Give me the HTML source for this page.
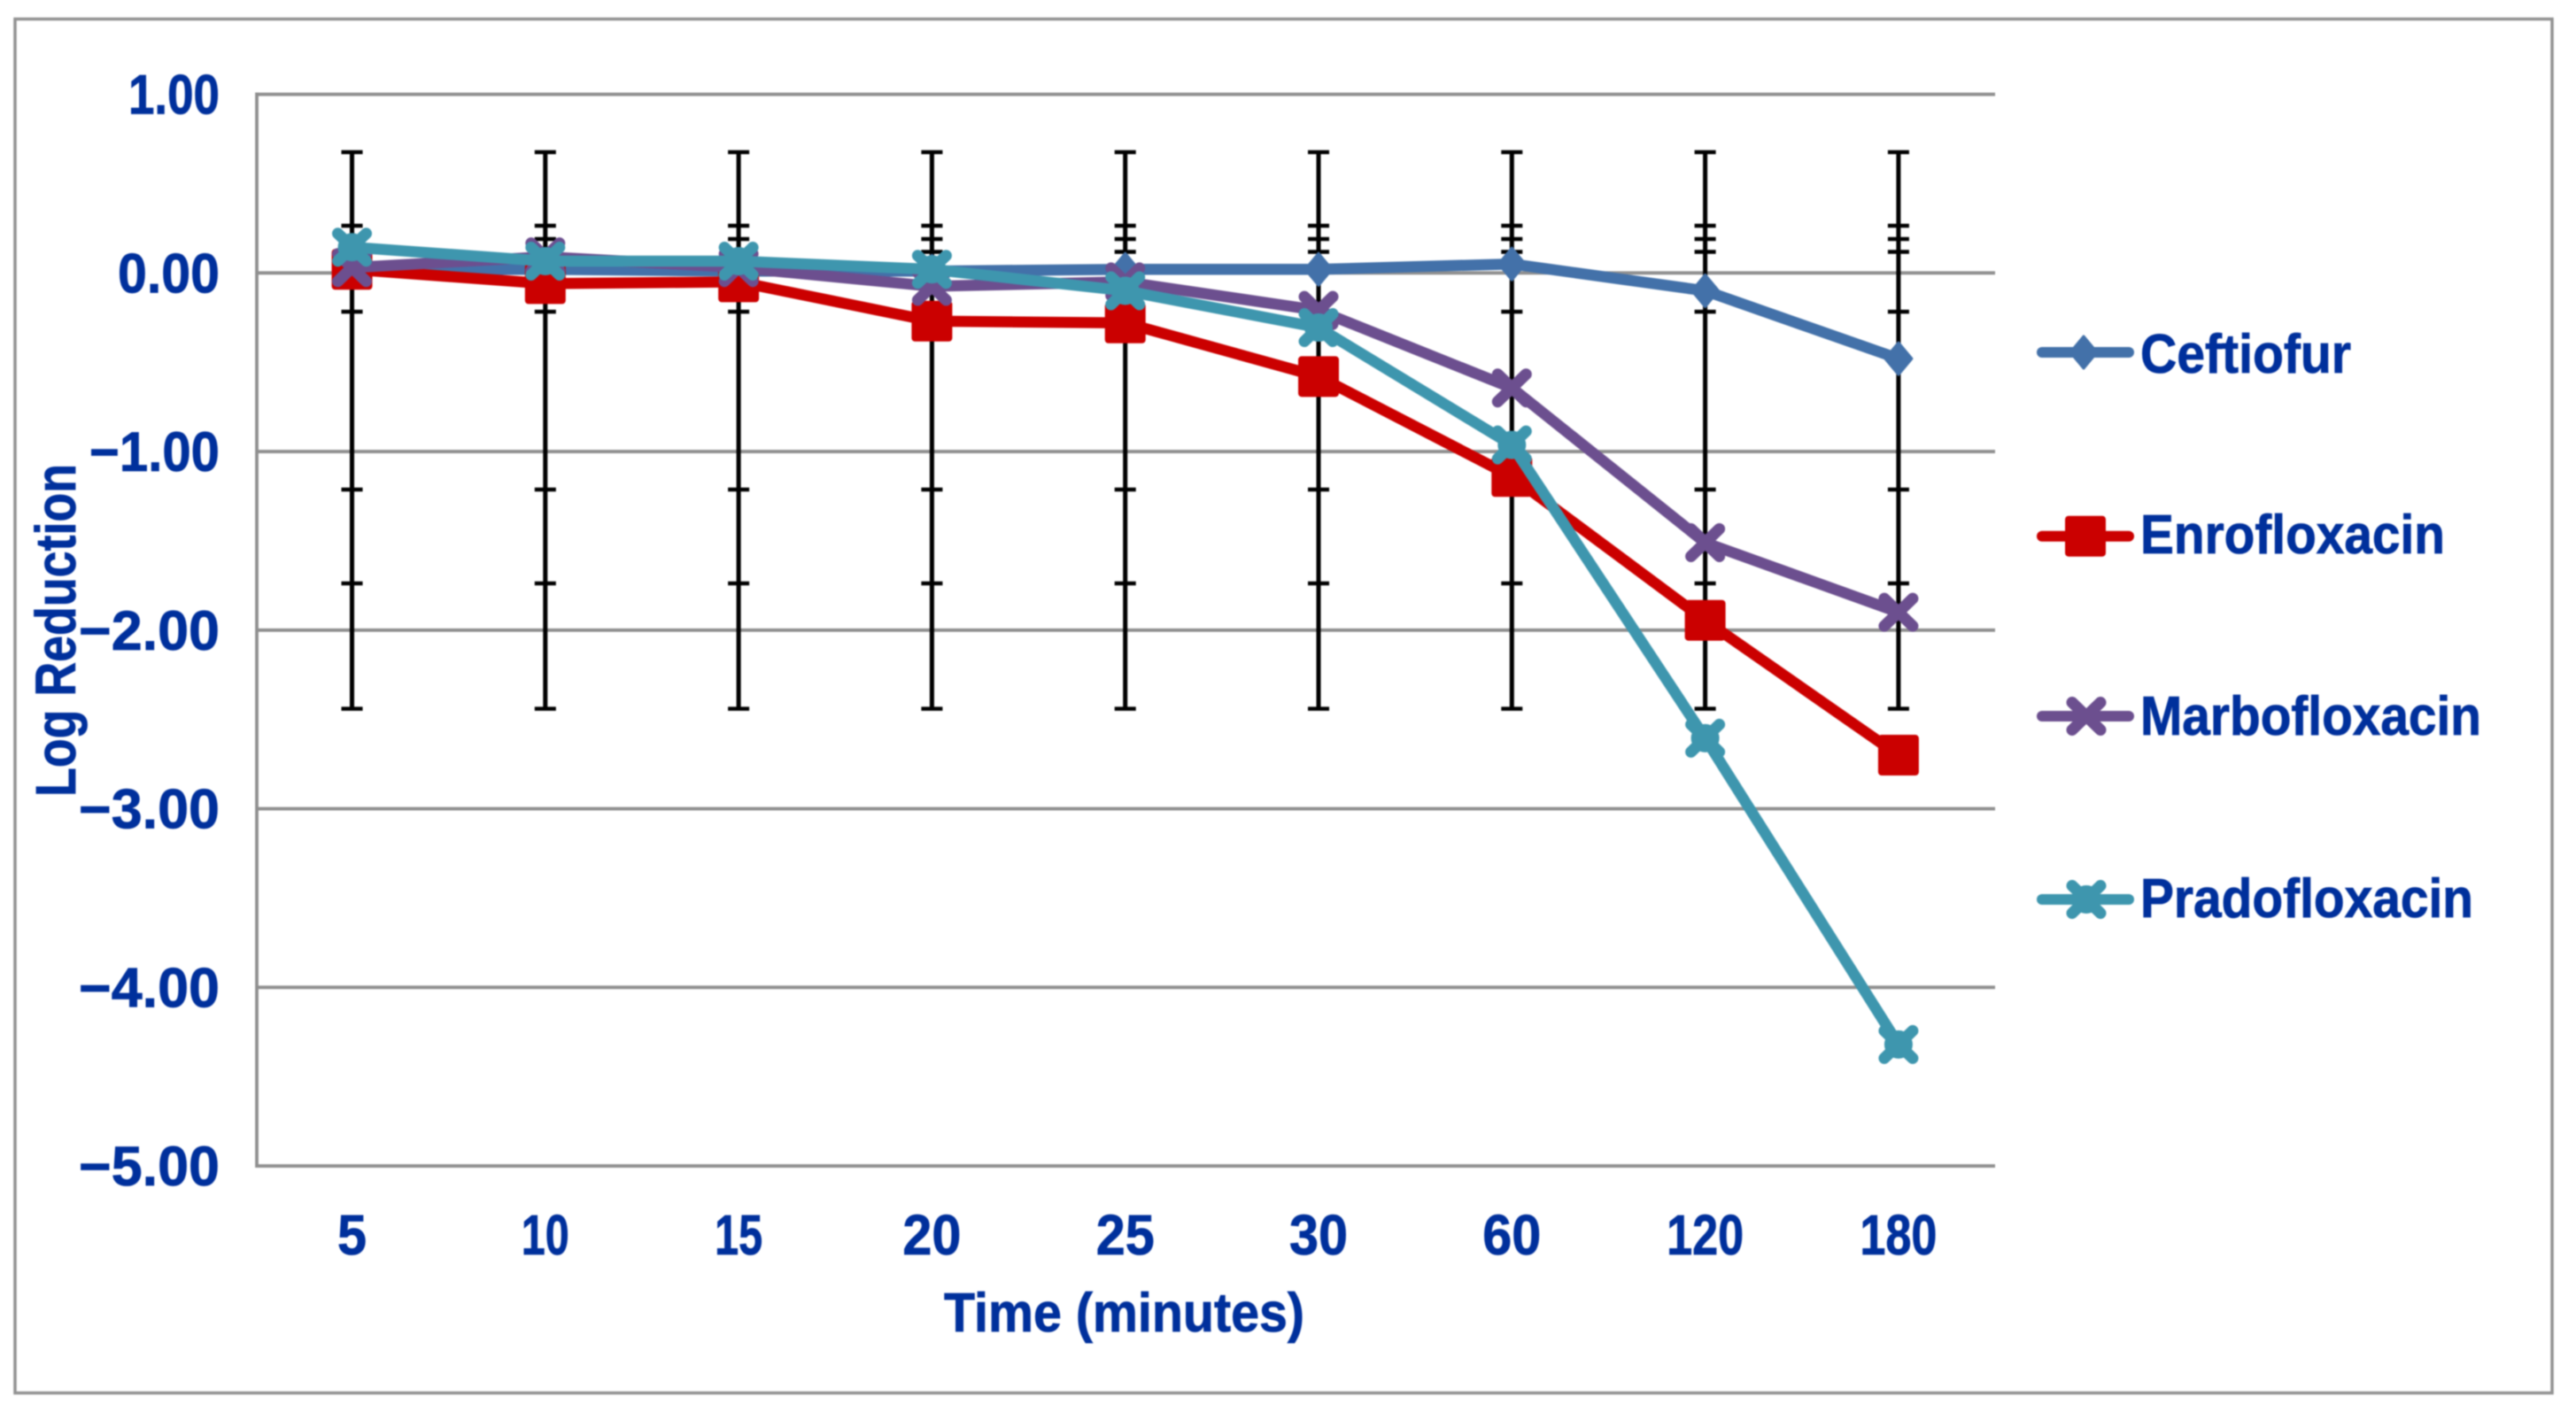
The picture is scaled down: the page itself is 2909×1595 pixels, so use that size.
<!DOCTYPE html>
<html lang="en">
<head>
<meta charset="utf-8">
<title>Log Reduction over Time</title>
<style>
  html, body { margin: 0; padding: 0; background: #ffffff; width: 2909px; height: 1595px; overflow: hidden; }
  svg { display: block; filter: blur(0.7px); }
  text { font-family: "Liberation Sans", sans-serif; font-weight: 700; fill: #00309c; stroke: #00309c; stroke-width: 0.8px; }
</style>
</head>
<body>
<svg id="chart" xmlns="http://www.w3.org/2000/svg" width="2909" height="1595" viewBox="0 0 2909 1595">
  <rect x="0" y="0" width="2909" height="1595" fill="#ffffff"></rect>
  <rect x="17" y="21.5" width="2865" height="1552" fill="#ffffff" stroke="#929292" stroke-width="3.5"></rect>
  <text transform="translate(85 900) rotate(-90)" font-size="64" textLength="376" lengthAdjust="spacingAndGlyphs">Log Reduction</text>
  <text x="1066" y="1504" font-size="62" textLength="407" lengthAdjust="spacingAndGlyphs">Time (minutes)</text>
</svg>
<script>
// ---- chart data ----
const categories = ['5', '10', '15', '20', '25', '30', '60', '120', '180'];
const yTicks = [1, 0, -1, -2, -3, -4, -5];
const yTickLabels = ['1.00', '0.00', '\u22121.00', '\u22122.00', '\u22123.00', '\u22124.00', '\u22125.00'];
const seriesNames = ['Ceftiofur', 'Enrofloxacin', 'Marbofloxacin', 'Pradofloxacin'];
const ceftiofur = [0.02, 0.02, 0.01, 0.01, 0.02, 0.02, 0.05, -0.10, -0.48];
const enrofloxacin = [0.02, -0.06, -0.05, -0.27, -0.28, -0.58, -1.14, -1.945, -2.70];
const marbofloxacin = [0.03, 0.09, 0.03, -0.075, -0.05, -0.21, -0.644, -1.51, -1.90];
const pradofloxacin = [0.144, 0.066, 0.066, 0.02, -0.10, -0.306, -0.963, -2.605, -4.32];
const errorUpper = [0.676, 0.264, 0.19, 0.118];
const errorLower = [-0.217, -1.213, -1.738, -2.44];

// ---- axis functions ----
const firstCategoryX = 397.5, categoryStep = 218.3;
const plotLeft = 290, plotRight = 2253;
const zeroY = 308.3, unitY = 201.75;
function xAt(i) { return firstCategoryX + categoryStep * i; }
function yAt(v) { return zeroY - unitY * v; }

const NS = 'http://www.w3.org/2000/svg';
const svg = document.getElementById('chart');
function make(parent, tag, attrs) {
  const el = document.createElementNS(NS, tag);
  for (const k in attrs) el.setAttribute(k, attrs[k]);
  parent.appendChild(el);
  return el;
}
const GRID = '#8f8f8f';

// gridlines and tick labels
const gridGroup = make(svg, 'g', {});


yTicks.forEach(function (t, i) {
  const line = make(gridGroup, 'line', { x1: plotLeft, x2: plotRight, y1: yAt(t), y2: yAt(t), stroke: GRID, 'stroke-width': 3.8 });
  
  
  const label = yTickLabels[i];
  const hasMinus = label.charAt(0) === '\u2212';
  const startsWithOne = label.replace('\u2212', '').charAt(0) === '1';
  const w = (startsWithOne ? 103 : 115) + (hasMinus ? 44 : 0);
  const txt = make(svg, 'text', { x: 248, y: yAt(t) + 22, 'font-size': 63, 'text-anchor': 'end', textLength: w, lengthAdjust: 'spacingAndGlyphs' });
  txt.textContent = label;
  
  
});
const yAxis = make(svg, 'line', { x1: plotLeft, x2: plotLeft, y1: yAt(1) - 2, y2: yAt(-5) + 2, stroke: GRID, 'stroke-width': 3.8 });



// category labels
categories.forEach(function (c, i) {
  let w = 0;
  for (const ch of c) w += ch === '1' ? 21 : 33;
  const txt = make(svg, 'text', { x: xAt(i), y: 1417, 'font-size': 64, 'text-anchor': 'middle', textLength: w, lengthAdjust: 'spacingAndGlyphs' });
  txt.textContent = c;
  
  
});

// error bars
const errorGroup = make(svg, 'g', { stroke: '#000000' });


categories.forEach(function (c, i) {
  const x = xAt(i);
  const whisker = make(errorGroup, 'line', { x1: x, x2: x, y1: yAt(Math.max.apply(null, errorUpper)), y2: yAt(Math.min.apply(null, errorLower)), 'stroke-width': 5 });
  
  
  errorUpper.concat(errorLower).forEach(function (v) {
    const cap = make(errorGroup, 'line', { x1: x - 12, x2: x + 12, y1: yAt(v), y2: yAt(v), 'stroke-width': 4.5 });
    
    
  });
});

// markers
function drawMarker(parent, kind, color, x, y) {
  const g = make(parent, 'g', { transform: 'translate(' + x + ' ' + y + ')' });
  if (kind === 'diamond') {
    make(g, 'polygon', { points: '0,-18 15,0 0,18 -15,0', fill: color, stroke: color, 'stroke-width': 3, 'stroke-linejoin': 'round' });
  } else if (kind === 'square') {
    make(g, 'rect', { x: -23, y: -23, width: 46, height: 46, rx: 4, fill: color });
  } else {
    make(g, 'line', { x1: -16, y1: -15.5, x2: 16, y2: 15.5, stroke: color, 'stroke-width': 13, 'stroke-linecap': 'round' });
    make(g, 'line', { x1: -16, y1: 15.5, x2: 16, y2: -15.5, stroke: color, 'stroke-width': 13, 'stroke-linecap': 'round' });
    if (kind === 'filled-x') make(g, 'circle', { r: 16, fill: color });
  }
  return g;
}

// series
const allSeries = [ceftiofur, enrofloxacin, marbofloxacin, pradofloxacin];
const seriesColors = ['#4371a9', '#cb0000', '#6c4f8f', '#3e96ae'];
const seriesMarkers = ['diamond', 'square', 'x', 'filled-x'];
allSeries.forEach(function (values, s) {
  const g = make(svg, 'g', {});
  
  
  const pts = values.map(function (v, i) { return xAt(i) + ',' + yAt(v); }).join(' ');
  const line = make(g, 'polyline', { points: pts, fill: 'none', stroke: seriesColors[s], 'stroke-width': 12.5, 'stroke-linejoin': 'round', 'stroke-linecap': 'round' });
  
  
  values.forEach(function (v, i) {
    const m = drawMarker(g, seriesMarkers[s], seriesColors[s], xAt(i), yAt(v));
    
    
  });
});

// legend
const legendLineY = [398, 605.7, 809, 1016];
const legendBaseY = [421, 625, 830, 1036];
const legendWidths = [238, 344, 385, 376];
const legendMarkerX = [2353, 2355, 2356, 2356];
seriesNames.forEach(function (name, s) {
  const g = make(svg, 'g', {});
  
  
  const swatch = make(g, 'line', { x1: 2306, x2: 2404, y1: legendLineY[s], y2: legendLineY[s], stroke: seriesColors[s], 'stroke-width': 12, 'stroke-linecap': 'round' });
  
  
  const m = drawMarker(g, seriesMarkers[s], seriesColors[s], legendMarkerX[s], legendLineY[s]);
  
  
  const t = make(g, 'text', { x: 2417, y: legendBaseY[s], 'font-size': 62, textLength: legendWidths[s], lengthAdjust: 'spacingAndGlyphs' });
  t.textContent = name;
  
  
});
</script>
</body>
</html>
